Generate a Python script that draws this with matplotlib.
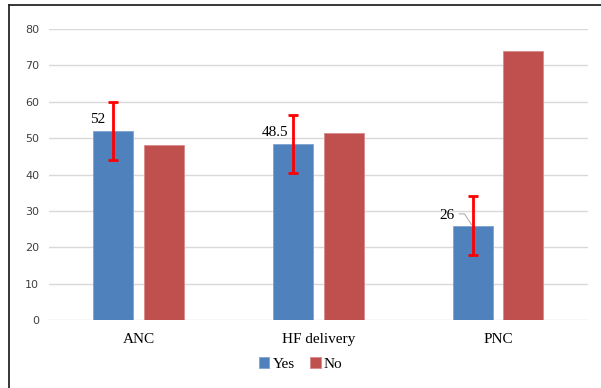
import matplotlib.pyplot as plt
import numpy as np
from matplotlib.lines import Line2D

categories = ["ANC", "HF delivery", "PNC"]
yes_vals = [52, 48.5, 26]
no_vals = [48, 51.5, 74]
yes_err = [8, 8, 8]
yes_labels = ["52", "48.5", "26"]

blue = "#4F81BD"
red = "#C0504D"

fig = plt.figure(figsize=(6.01, 3.88), dpi=100)
ax = fig.add_axes([0.0815, 0.175, 0.8965, 0.75])

x = np.arange(len(categories))
w = 0.223
gap = 0.03
ax.grid(axis="y", color="#D9D9D9", linewidth=1, zorder=0)
ax.bar(x - w / 2 - gap, yes_vals, width=w, color=blue, edgecolor="#7FA3D0",
       linewidth=0.6, label="Yes", zorder=3)
ax.bar(x + w / 2 + gap, no_vals, width=w, color=red, edgecolor="#D9898A",
       linewidth=0.6, label="No", zorder=3)
ax.errorbar(x - w / 2 - gap, yes_vals, yerr=yes_err, fmt="none", ecolor="#FF0000",
            elinewidth=2, capsize=3.5, capthick=2, zorder=4)

serif = "Liberation Serif"
# data labels: left of the error bar, above the bar
offsets = [(-0.088, 3.2), (-0.097, 3.1), (-0.14, 2.8)]
for i, (lab, (dx, dy)) in enumerate(zip(yes_labels, offsets)):
    xb = x[i] - w / 2 - gap
    ax.text(xb + dx, yes_vals[i] + dy, lab, ha="center", va="center",
            fontsize=11, family=serif, zorder=5)
# leader line for the PNC label
xb = x[2] - w / 2 - gap
ax.plot([xb - 0.074, xb - 0.045, xb - 0.005], [29.2, 29.2, 26.2], color="#A6A6A6",
        linewidth=0.7, zorder=5)

ax.set_xlim(-0.5, 2.5)
ax.set_ylim(0, 80)
ax.set_yticks(range(0, 81, 10))
ax.set_xticks(x)
ax.set_xticklabels(categories, family=serif, fontsize=11)
ax.tick_params(axis="x", length=0, pad=9)
ax.tick_params(axis="y", length=0, labelsize=8, labelcolor="#404040", pad=7)
for s in ax.spines.values():
    s.set_visible(False)

leg = fig.legend(loc="center", bbox_to_anchor=(0.5, 0.062), ncol=2, frameon=False,
                 prop={"family": serif, "size": 11}, handlelength=0.7,
                 handleheight=0.7, handletextpad=0.2, columnspacing=1.0)

# outer frame (top and left)
fig.add_artist(Line2D([0.0145, 1.0], [0.987, 0.987], transform=fig.transFigure,
                      color="#262626", linewidth=1.3))
fig.add_artist(Line2D([0.0145, 0.0145], [0.0, 0.987], transform=fig.transFigure,
                      color="#262626", linewidth=1.3))

fig.savefig("out.png", dpi=100)
